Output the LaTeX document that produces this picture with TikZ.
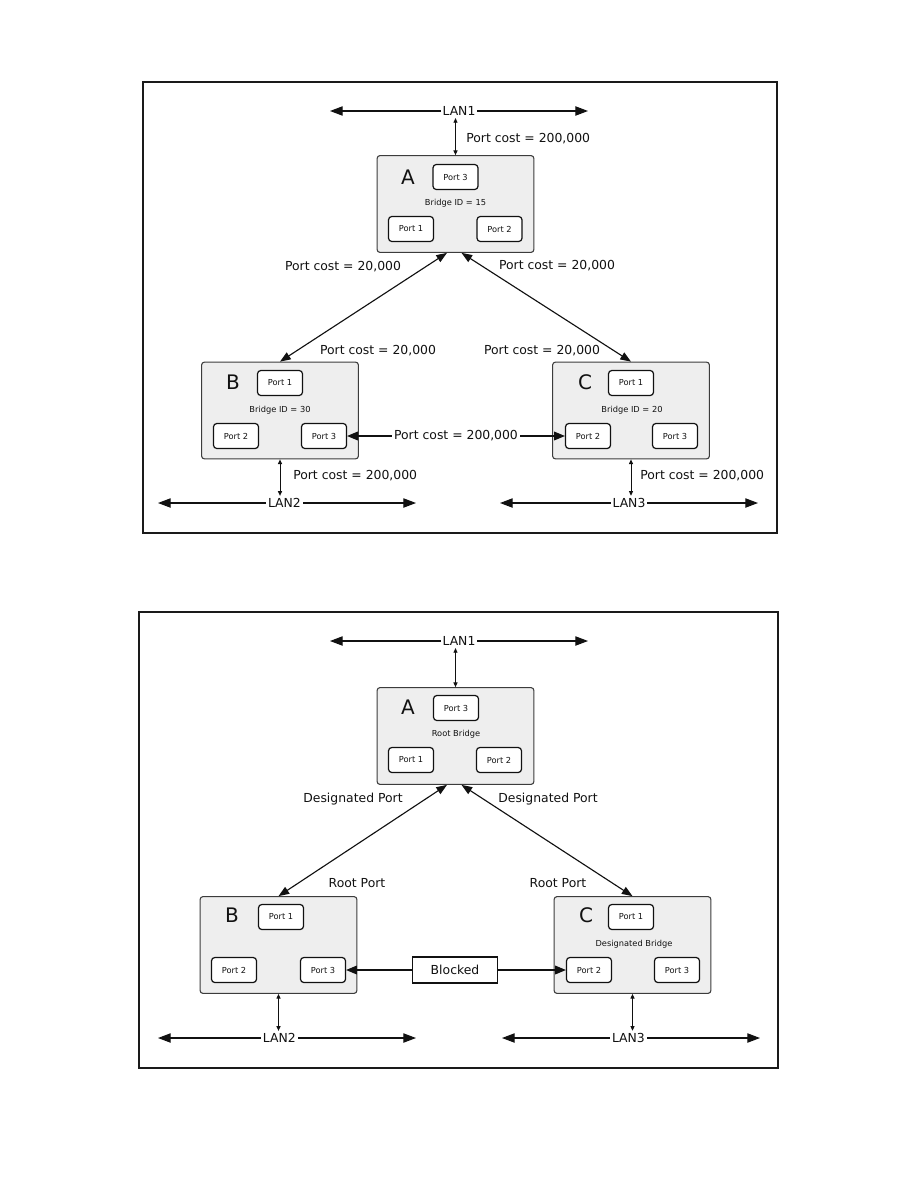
\documentclass[tikz,border=0pt]{standalone}
\usepackage{fontspec}
\setmainfont{DejaVu Sans}
\usetikzlibrary{arrows.meta,positioning,calc}
\definecolor{ink}{HTML}{111111}
\definecolor{frameline}{HTML}{1A1A1A}
\definecolor{boxline}{HTML}{3C3C3C}
\definecolor{boxfill}{HTML}{EEEEEE}
\tikzset{
  framebox/.style={draw=frameline,line width=1.1pt},
  bridgebox/.style={draw=boxline,fill=boxfill,rounded corners=2pt,line width=0.8pt,minimum width=117.5pt,minimum height=72.5pt},
  portbox/.style={draw=ink,fill=white,rounded corners=2.5pt,line width=0.9pt,minimum width=33.75pt,minimum height=18.75pt,inner sep=0pt,font=\fontsize{6.2}{7}\selectfont,text=ink},
  blockbox/.style={draw=ink,fill=white,line width=0.8pt,minimum width=64pt,minimum height=19.5pt,inner sep=0pt,font=\fontsize{9.3}{11}\selectfont,text=ink},
  bridgename/.style={font=\fontsize{15}{17}\selectfont,text=ink,inner sep=0pt},
  bridgeid/.style={font=\fontsize{6.2}{7}\selectfont,text=ink,inner sep=0pt},
  costlabel/.style={font=\fontsize{9.3}{11}\selectfont,text=ink,inner sep=0pt},
  lantext/.style={font=\fontsize{9.3}{11}\selectfont,text=ink,fill=white,inner sep=1.5pt},
  lanlink/.style={<->,>={Triangle[length=9.5pt,width=7pt]},draw=ink,line width=0.8pt},
  tap/.style={<->,>={Triangle[length=3.5pt,width=3pt]},draw=ink,line width=0.7pt},
  trunk/.style={<->,>={Triangle[length=8pt,width=6pt]},draw=ink,line width=0.85pt},
  cross/.style={->,>={Triangle[length=8pt,width=6.5pt]},draw=ink,line width=0.8pt},
}
\begin{document}
\begin{tikzpicture}[x=0.75pt,y=-0.75pt]
\useasboundingbox (0,0) rectangle (918,1188);

% (1) Port costs ----------------------------------------------------------------
\draw[framebox] (143,82) rectangle (777,533);

\coordinate (lan1w) at (330,111);
\coordinate (lan1e) at (588,111);
\draw[lanlink] (lan1w) -- node[lantext] (lan1) {LAN1} (lan1e);

\node[bridgebox] (a) at (455.5,204) {};
\node[bridgename] (aname) at (408,177) {A};
\node[portbox] (a3) at (455.5,177) {Port 3};
\node[bridgeid] (aid) at (455.5,203) {Bridge ID = 15};
\node[portbox] (a1) at (411,229) {Port 1};
\node[portbox] (a2) at (499.5,229) {Port 2};
\draw[tap] (a.north) -- (a.north |- lan1.south);
\node[costlabel,anchor=west] (alan) at (466,139) {Port cost = 200,000};

\node[bridgebox] (b) at (280,410.5) {};
\node[bridgename] (bname) at (233,382) {B};
\node[portbox] (b1) at (280,383) {Port 1};
\node[bridgeid] (bid) at (280,410) {Bridge ID = 30};
\node[portbox] (b2) at (236,436) {Port 2};
\node[portbox] (b3) at (324,436) {Port 3};

\node[bridgebox] (c) at (631,410.5) {};
\node[bridgename] (cname) at (585,382) {C};
\node[portbox] (c1) at (631,383) {Port 1};
\node[bridgeid] (cid) at (632,410) {Bridge ID = 20};
\node[portbox] (c2) at (588,436) {Port 2};
\node[portbox] (c3) at (675,436) {Port 3};

\draw[trunk] ($(a.south)+(-8.5,0)$) -- (b.north);
\draw[trunk] ($(a.south)+(6,0)$) -- (c.north);
\node[costlabel] (ab1) at (343,267) {Port cost = 20,000};
\node[costlabel] (ac1) at (557,266) {Port cost = 20,000};
\node[costlabel] (ab2) at (378,351) {Port cost = 20,000};
\node[costlabel] (ac2) at (542,351) {Port cost = 20,000};
\draw[cross,<->] (b3) -- node[lantext] (bc) {Port cost = 200,000} (c2);

\coordinate (lan2w) at (158,503);
\coordinate (lan2e) at (416,503);
\draw[lanlink] (lan2w) -- node[lantext,pos=0.49] (lan2) {LAN2} (lan2e);
\draw[tap] (b.south) -- (b.south |- lan2.north);
\node[costlabel,anchor=west] (blan) at (293,476) {Port cost = 200,000};

\coordinate (lan3w) at (500,503);
\coordinate (lan3e) at (758,503);
\draw[lanlink] (lan3w) -- node[lantext] (lan3) {LAN3} (lan3e);
\draw[tap] (c.south) -- (c.south |- lan3.north);
\node[costlabel,anchor=west] (clan) at (640,476) {Port cost = 200,000};

% (2) Port roles ----------------------------------------------------------------
\draw[framebox] (139,612) rectangle (778,1068);

\coordinate (rlan1w) at (330,641);
\coordinate (rlan1e) at (588,641);
\draw[lanlink] (rlan1w) -- node[lantext] (rlan1) {LAN1} (rlan1e);

\node[bridgebox] (ra) at (455.5,736) {};
\node[bridgename] (raname) at (408,707) {A};
\node[portbox] (ra3) at (456,708) {Port 3};
\node[bridgeid] (raid) at (456,734) {Root Bridge};
\node[portbox] (ra1) at (411,760) {Port 1};
\node[portbox] (ra2) at (499,760) {Port 2};
\draw[tap] (ra.north) -- (ra.north |- rlan1.south);

\node[bridgebox] (rb) at (278.5,945) {};
\node[bridgename] (rbname) at (232,915) {B};
\node[portbox] (rb1) at (281,917) {Port 1};
\node[portbox] (rb2) at (234,970) {Port 2};
\node[portbox] (rb3) at (323,970) {Port 3};

\node[bridgebox] (rc) at (632.5,945) {};
\node[bridgename] (rcname) at (586,915) {C};
\node[portbox] (rc1) at (631,917) {Port 1};
\node[bridgeid] (rcid) at (634,944) {Designated Bridge};
\node[portbox] (rc2) at (589,970) {Port 2};
\node[portbox] (rc3) at (677,970) {Port 3};

\draw[trunk] ($(ra.south)+(-8.5,0)$) -- (rb.north);
\draw[trunk] ($(ra.south)+(6,0)$) -- (rc.north);
\node[costlabel] (rab1) at (353,799) {Designated Port};
\node[costlabel] (rac1) at (548,799) {Designated Port};
\node[costlabel] (rab2) at (357,883) {Root Port};
\node[costlabel] (rac2) at (558,883) {Root Port};

\node[blockbox] (blk) at (455,970) {Blocked};
\draw[cross] (blk) -- (rb3);
\draw[cross] (blk) -- (rc2);

\coordinate (rlan2w) at (158,1038);
\coordinate (rlan2e) at (416,1038);
\draw[lanlink] (rlan2w) -- node[lantext,pos=0.47] (rlan2) {LAN2} (rlan2e);
\draw[tap] (rb.south) -- (rb.south |- rlan2.north);

\coordinate (rlan3w) at (502,1038);
\coordinate (rlan3e) at (760,1038);
\draw[lanlink] (rlan3w) -- node[lantext,pos=0.49] (rlan3) {LAN3} (rlan3e);
\draw[tap] (rc.south) -- (rc.south |- rlan3.north);

\end{tikzpicture}
\end{document}
